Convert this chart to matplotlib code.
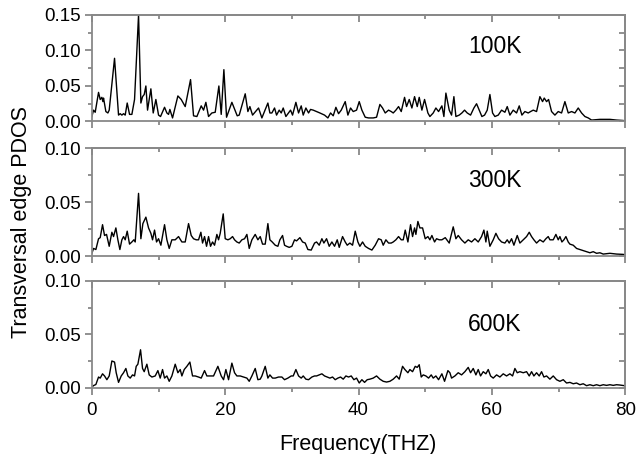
import matplotlib
matplotlib.use("Agg")
import matplotlib.pyplot as plt
from matplotlib.ticker import MultipleLocator, FormatStrFormatter

plt.rcParams['font.family'] = ['Liberation Sans', 'DejaVu Sans']

# 100K
f100 = [0, 0.25, 0.5, 1.0, 1.25, 1.5, 1.65, 1.75, 2.1, 2.4, 2.6, 3.4, 4.0, 4.25, 4.5, 4.75, 5.0, 5.3,
        5.65, 6.0, 6.4, 7.0, 7.35, 7.6, 7.85, 8.1, 8.35, 8.85, 9.2, 9.6, 10.0, 10.3, 10.9, 11.25, 11.5,
        11.7, 12.1, 12.9, 13.4, 14.0, 14.8, 15.25, 15.75, 16.4, 16.75, 17.1, 17.5, 18.0, 18.5, 19.05,
        19.4, 19.8, 20.2, 21.0, 21.8, 22.1, 23.0, 23.4, 23.7, 24.1, 25.0, 25.5, 26.4, 26.7, 27.0,
        27.4, 27.7, 28.1, 28.4, 28.7, 29.1, 29.5, 29.8, 30.1, 30.6, 31.0, 31.4, 31.7, 32.1, 32.5,
        32.8, 33.2, 33.7, 34.2, 34.9, 35.4, 35.8, 36.2, 36.6, 37.0, 37.4, 38.0, 38.4, 38.8, 39.2,
        39.7, 40.1, 40.5, 41.0, 41.5, 42.2, 42.7, 43.2, 43.6, 44.0, 44.5, 44.9, 45.2, 45.6, 46.0,
        46.4, 46.9, 47.2, 47.6, 48.0, 48.4, 48.8, 49.1, 49.5, 49.9, 50.4, 50.7, 51.2, 51.6, 52.0,
        52.5, 52.8, 53.1, 53.6, 53.95, 54.3, 54.6, 55.1, 55.5, 55.9, 56.3, 56.8, 57.3, 57.7, 58.1,
        58.5, 58.9, 59.3, 59.7, 60.1, 60.45, 60.95, 61.45, 61.95, 62.3, 62.7, 63.2, 63.7, 64.1,
        64.5, 64.95, 65.45, 65.8, 66.2, 66.7, 67.2, 67.6, 67.85, 68.2, 68.5, 68.95, 69.45, 69.95,
        70.45, 70.95, 71.45, 71.95, 72.45, 72.95, 73.45, 73.95, 74.45, 74.95, 76.2, 77.7, 78.7,
        79.7, 80.0]
p100 = [0.007, 0.016, 0.013, 0.041, 0.031, 0.034, 0.028, 0.033, 0.014, 0.012, 0.016, 0.089, 0.009,
        0.011, 0.009, 0.011, 0.009, 0.026, 0.010, 0.010, 0.031, 0.150, 0.026, 0.035, 0.038, 0.050,
        0.016, 0.046, 0.012, 0.031, 0.009, 0.007, 0.020, 0.012, 0.010, 0.017, 0.005, 0.036, 0.031,
        0.021, 0.059, 0.008, 0.007, 0.022, 0.016, 0.027, 0.007, 0.012, 0.013, 0.050, 0.010, 0.073,
        0.006, 0.027, 0.008, 0.009, 0.039, 0.014, 0.021, 0.009, 0.019, 0.005, 0.026, 0.012, 0.012,
        0.019, 0.009, 0.016, 0.012, 0.019, 0.007, 0.012, 0.016, 0.009, 0.027, 0.012, 0.022, 0.009,
        0.019, 0.012, 0.017, 0.016, 0.014, 0.012, 0.009, 0.005, 0.012, 0.008, 0.020, 0.011, 0.016,
        0.028, 0.009, 0.019, 0.014, 0.016, 0.028, 0.016, 0.006, 0.005, 0.005, 0.006, 0.024, 0.019,
        0.012, 0.016, 0.014, 0.012, 0.016, 0.021, 0.014, 0.034, 0.021, 0.031, 0.019, 0.035, 0.021,
        0.034, 0.016, 0.031, 0.012, 0.007, 0.012, 0.019, 0.014, 0.022, 0.007, 0.040, 0.016, 0.009,
        0.035, 0.007, 0.009, 0.012, 0.016, 0.012, 0.009, 0.019, 0.025, 0.016, 0.007, 0.009, 0.016,
        0.038, 0.012, 0.007, 0.009, 0.016, 0.013, 0.021, 0.009, 0.016, 0.012, 0.022, 0.009, 0.014,
        0.012, 0.014, 0.016, 0.014, 0.035, 0.028, 0.033, 0.028, 0.031, 0.014, 0.009, 0.014, 0.012,
        0.028, 0.012, 0.014, 0.012, 0.019, 0.012, 0.007, 0.005, 0.002, 0.003, 0.003, 0.002, 0.0014,
        0.0005]

# 300K
f300 = [0, 0.25, 0.6, 1.0, 1.25, 1.6, 1.9, 2.2, 2.6, 3.0, 3.25, 3.6, 3.9, 4.2, 4.5, 4.75, 5.0, 5.3,
        5.65, 6.0, 6.3, 6.5, 7.0, 7.35, 7.65, 8.1, 8.5, 8.85, 9.1, 9.4, 9.7, 10.0, 10.35, 10.9,
        11.25, 11.6, 12.0, 12.5, 13.0, 13.5, 14.0, 14.5, 14.9, 15.25, 15.65, 16.0, 16.35, 16.6,
        16.9, 17.2, 17.5, 17.8, 18.1, 18.4, 18.75, 19.0, 19.25, 19.7, 20.0, 20.4, 20.75, 21.1, 21.4,
        21.75, 22.1, 22.5, 22.9, 23.25, 23.6, 24.0, 24.5, 24.9, 25.25, 25.6, 26.0, 26.4, 26.7,
        27.05, 27.5, 27.9, 28.2, 28.6, 28.9, 29.2, 29.6, 30.0, 30.4, 30.7, 31.2, 31.6, 32.0, 32.4,
        32.9, 33.4, 33.7, 34.1, 34.5, 34.8, 35.2, 35.6, 36.0, 36.4, 36.8, 37.1, 37.6, 38.0, 38.3,
        38.7, 39.1, 39.5, 39.9, 40.2, 40.6, 41.0, 41.5, 42.0, 42.5, 43.0, 43.4, 43.7, 44.1, 44.5,
        44.9, 45.2, 45.6, 46.0, 46.4, 46.7, 47.0, 47.4, 47.8, 48.1, 48.4, 48.6, 48.9, 49.2, 49.6,
        50.0, 50.4, 50.7, 51.0, 51.4, 51.7, 52.1, 52.5, 53.0, 53.6, 54.2, 54.6, 54.95, 55.45, 55.95,
        56.45, 56.95, 57.45, 57.95, 58.45, 58.8, 59.1, 59.3, 59.7, 60.2, 60.6, 61.0, 61.45, 61.95,
        62.3, 62.6, 62.95, 63.3, 63.8, 64.2, 64.7, 65.2, 65.6, 65.95, 66.3, 66.7, 67.2, 67.7, 68.1,
        68.45, 68.7, 69.2, 69.6, 69.95, 70.2, 70.5, 70.8, 71.1, 71.45, 71.7, 72.2, 72.7, 73.2, 73.7,
        74.2, 74.7, 75.2, 75.7, 76.2, 76.7, 77.7, 78.7, 79.7, 80.0]
p300 = [0.0025, 0.007, 0.006, 0.016, 0.017, 0.029, 0.019, 0.020, 0.009, 0.022, 0.018, 0.026, 0.015,
        0.006, 0.015, 0.018, 0.015, 0.023, 0.011, 0.013, 0.015, 0.013, 0.058, 0.016, 0.030, 0.036,
        0.026, 0.021, 0.015, 0.024, 0.013, 0.016, 0.010, 0.029, 0.015, 0.007, 0.015, 0.015, 0.018,
        0.013, 0.013, 0.030, 0.019, 0.016, 0.015, 0.015, 0.022, 0.012, 0.018, 0.009, 0.018, 0.009,
        0.013, 0.010, 0.020, 0.015, 0.021, 0.039, 0.016, 0.015, 0.016, 0.018, 0.015, 0.013, 0.012,
        0.015, 0.016, 0.020, 0.007, 0.015, 0.020, 0.015, 0.018, 0.011, 0.011, 0.030, 0.015, 0.013,
        0.010, 0.009, 0.015, 0.019, 0.010, 0.009, 0.008, 0.009, 0.015, 0.014, 0.017, 0.013, 0.012,
        0.006, 0.0055, 0.012, 0.013, 0.010, 0.016, 0.012, 0.016, 0.009, 0.013, 0.009, 0.015, 0.008,
        0.018, 0.013, 0.010, 0.012, 0.010, 0.023, 0.013, 0.009, 0.013, 0.009, 0.007, 0.0055, 0.010,
        0.016, 0.015, 0.010, 0.015, 0.012, 0.012, 0.013, 0.015, 0.018, 0.015, 0.015, 0.024, 0.013,
        0.029, 0.018, 0.026, 0.020, 0.032, 0.026, 0.026, 0.016, 0.018, 0.015, 0.019, 0.013, 0.016,
        0.015, 0.015, 0.017, 0.012, 0.027, 0.016, 0.019, 0.015, 0.012, 0.015, 0.013, 0.016, 0.013,
        0.018, 0.024, 0.013, 0.023, 0.009, 0.015, 0.021, 0.016, 0.013, 0.012, 0.015, 0.012, 0.016,
        0.010, 0.019, 0.012, 0.015, 0.018, 0.022, 0.018, 0.015, 0.012, 0.015, 0.013, 0.016, 0.018,
        0.015, 0.015, 0.020, 0.015, 0.018, 0.013, 0.015, 0.018, 0.013, 0.011, 0.010, 0.007, 0.006,
        0.005, 0.004, 0.003, 0.004, 0.0025, 0.003, 0.0018, 0.0025, 0.0018, 0.0015, 0.0009]

# 600K
f600 = [0, 0.25, 0.6, 1.0, 1.25, 1.6, 1.9, 2.25, 2.6, 3.0, 3.4, 3.65, 4.0, 4.4, 4.75, 5.1, 5.4, 5.75,
        6.1, 6.4, 6.65, 6.9, 7.3, 7.6, 7.85, 8.25, 8.6, 9.0, 9.5, 9.9, 10.25, 10.6, 10.9, 11.25,
        11.6, 12.0, 12.5, 12.9, 13.25, 13.5, 13.85, 14.25, 14.7, 15.1, 15.5, 16.0, 16.4, 16.9,
        17.25, 17.75, 18.25, 18.9, 19.4, 19.75, 20.1, 20.5, 21.0, 21.4, 21.75, 22.25, 22.75, 23.25,
        23.6, 24.0, 24.5, 24.9, 25.25, 25.5, 26.0, 26.4, 26.7, 27.1, 27.5, 28.0, 28.5, 28.9, 29.4,
        29.9, 30.2, 30.6, 31.0, 31.4, 31.7, 32.1, 32.5, 33.0, 33.4, 33.7, 34.1, 34.5, 34.9, 35.3,
        35.7, 36.1, 36.5, 36.9, 37.3, 37.7, 38.1, 38.5, 38.9, 39.3, 39.7, 40.1, 40.5, 40.9, 41.3,
        41.7, 42.2, 42.7, 43.2, 43.7, 44.2, 44.7, 45.2, 45.7, 46.1, 46.6, 46.95, 47.4, 47.7, 48.1,
        48.5, 48.8, 49.1, 49.4, 49.7, 50.1, 50.5, 50.9, 51.2, 51.6, 52.0, 52.5, 52.9, 53.4, 53.7,
        53.95, 54.45, 54.95, 55.45, 55.95, 56.45, 56.8, 57.2, 57.6, 57.95, 58.3, 58.7, 59.1, 59.45,
        59.8, 60.2, 60.7, 61.2, 61.7, 62.2, 62.7, 63.1, 63.45, 63.8, 64.2, 64.7, 65.2, 65.6, 65.95,
        66.3, 66.7, 67.1, 67.45, 67.8, 68.2, 68.7, 69.2, 69.7, 70.2, 70.7, 71.2, 71.7, 72.2, 72.7,
        73.2, 73.7, 74.2, 74.7, 75.2, 75.7, 76.2, 76.7, 77.2, 77.7, 78.2, 78.7, 79.2, 79.9]
p600 = [0.0006, 0.002, 0.003, 0.010, 0.009, 0.013, 0.011, 0.0075, 0.011, 0.025, 0.024, 0.014, 0.005,
        0.011, 0.014, 0.018, 0.011, 0.009, 0.012, 0.011, 0.020, 0.022, 0.0355, 0.018, 0.015, 0.022,
        0.012, 0.010, 0.011, 0.016, 0.009, 0.017, 0.009, 0.011, 0.006, 0.011, 0.022, 0.014, 0.017,
        0.011, 0.017, 0.020, 0.024, 0.011, 0.011, 0.010, 0.009, 0.016, 0.011, 0.011, 0.011, 0.020,
        0.011, 0.0075, 0.017, 0.0075, 0.023, 0.014, 0.011, 0.011, 0.010, 0.009, 0.006, 0.011, 0.018,
        0.0075, 0.008, 0.011, 0.020, 0.009, 0.012, 0.009, 0.009, 0.010, 0.010, 0.0075, 0.009, 0.011,
        0.011, 0.017, 0.011, 0.009, 0.011, 0.008, 0.0075, 0.010, 0.011, 0.011, 0.012, 0.013, 0.011,
        0.010, 0.009, 0.010, 0.0075, 0.009, 0.010, 0.008, 0.011, 0.010, 0.011, 0.0075, 0.009, 0.0044,
        0.0075, 0.005, 0.0075, 0.008, 0.009, 0.011, 0.008, 0.006, 0.0053, 0.006, 0.008, 0.011, 0.008,
        0.020, 0.017, 0.014, 0.017, 0.015, 0.020, 0.019, 0.0215, 0.010, 0.012, 0.011, 0.009, 0.012,
        0.009, 0.011, 0.0075, 0.013, 0.006, 0.016, 0.014, 0.009, 0.011, 0.014, 0.012, 0.015, 0.019,
        0.014, 0.018, 0.012, 0.017, 0.011, 0.015, 0.013, 0.017, 0.011, 0.009, 0.012, 0.010, 0.013,
        0.011, 0.013, 0.011, 0.018, 0.014, 0.015, 0.014, 0.015, 0.011, 0.015, 0.011, 0.014, 0.011,
        0.015, 0.010, 0.011, 0.008, 0.011, 0.0075, 0.006, 0.0075, 0.0044, 0.005, 0.0037, 0.0044,
        0.0028, 0.0037, 0.0019, 0.0028, 0.0019, 0.0028, 0.0019, 0.0028, 0.0022, 0.0028, 0.0022,
        0.0028, 0.0025, 0.0019]

panels = [(f100, p100, 0.15, '100K'), (f300, p300, 0.10, '300K'), (f600, p600, 0.10, '600K')]
label_y = [0.70, 0.70, 0.595]
# axes boxes in figure fractions [left, bottom, width, height]
boxes = [[0.144, 0.7324, 0.836, 0.2346],
         [0.144, 0.4361, 0.836, 0.2379],
         [0.144, 0.1460, 0.836, 0.2355]]

gray = '#888888'
fig = plt.figure(figsize=(6.38, 4.54), dpi=100)

for i, (f, p, ymax, name) in enumerate(panels):
    ax = fig.add_axes(boxes[i])
    ax.plot(f, p, color='black', lw=1.0, solid_joinstyle='round')
    ax.set_xlim(0, 80)
    ax.set_ylim(0, ymax)
    ax.xaxis.set_major_locator(MultipleLocator(20))
    ax.xaxis.set_minor_locator(MultipleLocator(10))
    ax.yaxis.set_major_locator(MultipleLocator(0.05))
    ax.yaxis.set_minor_locator(MultipleLocator(0.025))
    ax.yaxis.set_major_formatter(FormatStrFormatter('%.2f'))
    for s in ax.spines.values():
        s.set_color(gray)
        s.set_linewidth(1.3)
    ax.tick_params(which='both', direction='out', color=gray, width=1.3, labelsize=13.5)
    ax.tick_params(which='major', length=5)
    ax.tick_params(which='minor', length=3)
    ax.tick_params(axis='y', pad=3)
    ax.tick_params(axis='x', pad=5)
    if i < 2:
        ax.tick_params(axis='x', labelbottom=False)

    top = ax.secondary_xaxis('top')
    top.xaxis.set_major_locator(MultipleLocator(20))
    top.xaxis.set_minor_locator(MultipleLocator(10))
    top.tick_params(which='both', direction='in', color=gray, width=1.3, labeltop=False)
    top.tick_params(which='major', length=5)
    top.tick_params(which='minor', length=3)
    top.spines['top'].set_color(gray)
    top.spines['top'].set_linewidth(1.3)

    right = ax.secondary_yaxis('right')
    right.yaxis.set_major_locator(MultipleLocator(0.05))
    right.yaxis.set_minor_locator(MultipleLocator(0.025))
    right.tick_params(which='both', direction='in', color=gray, width=1.3, labelright=False)
    right.tick_params(which='major', length=4)
    right.tick_params(which='minor', length=4)
    right.spines['right'].set_color(gray)
    right.spines['right'].set_linewidth(1.3)

    ax.text(0.755, label_y[i], name, transform=ax.transAxes, fontsize=16.5,
            ha='center', va='center')

fig.text(358 / 638, 0.022, 'Frequency(THZ)', fontsize=15.5, ha='center', va='center')
fig.text(22 / 638, 1 - 222 / 454, 'Transversal edge PDOS', fontsize=15.5,
         rotation=90, ha='center', va='center')

fig.savefig('out.png', dpi=100)
